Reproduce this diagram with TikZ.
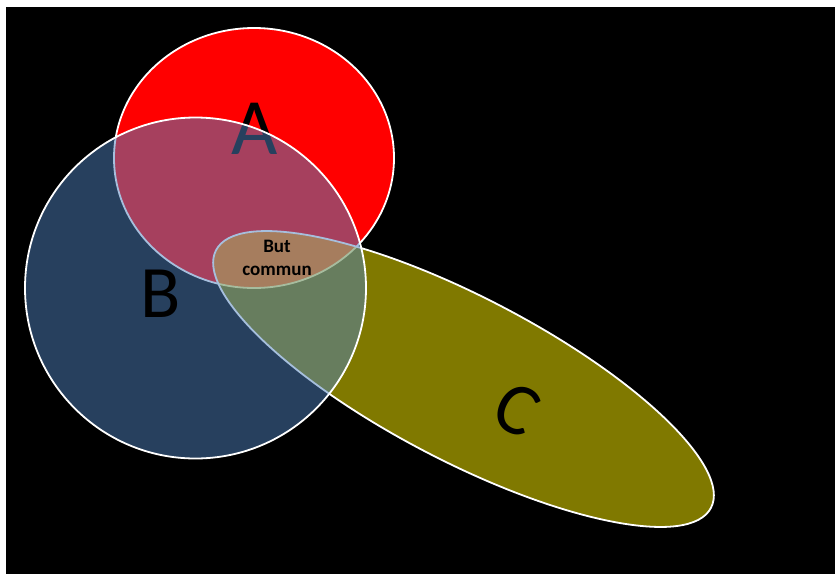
\documentclass[tikz,border=0pt]{standalone}
\usepackage{fontspec}
\setmainfont{Carlito}
\definecolor{accentblue}{RGB}{79,129,189}
\tikzset{
  shapeborder/.style={draw=white, line width=1.8pt},
  bigletter/.style={inner sep=0pt, text=black},
}
\begin{document}
\begin{tikzpicture}[x=1pt,y=1pt]
\useasboundingbox (0,0) rectangle (835,-574);
\fill[white] (0,0) rectangle (835,-574);
\fill[black] (6,-7) rectangle (835,-574);
% A
\path[fill=red, shapeborder] (254,-158) ellipse [x radius=140, y radius=130];
\node[bigletter, font=\fontsize{80}{90}\selectfont] (la) at (255,-129) {A};
% C
\path[fill=yellow, fill opacity=0.5, shapeborder] (463.5,-379) ellipse [x radius=279, y radius=82, rotate=-27.5];
% B
\path[fill=accentblue, fill opacity=0.5, shapeborder] (195.5,-288) circle [radius=170.5];
\node[bigletter, font=\fontsize{74}{84}\selectfont] (lb) at (161,-294) {B};
\node[bigletter, font=\fontsize{74}{84}\selectfont, rotate=-27.5] (lc) at (517,-410) {C};
\node[inner sep=0pt, align=center, font=\bfseries\fontsize{19}{23}\selectfont] (common) at (277,-258) {But\\commun};
\end{tikzpicture}
\end{document}
